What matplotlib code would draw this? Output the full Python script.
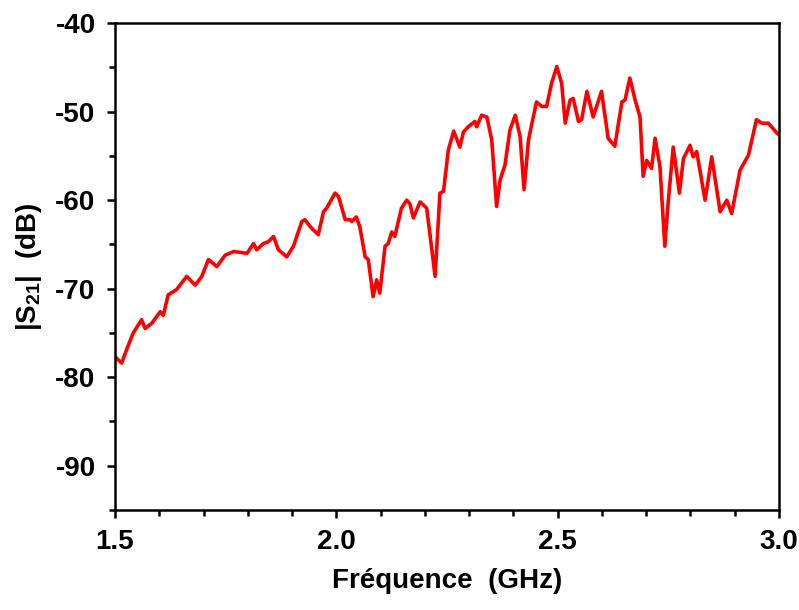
import matplotlib
matplotlib.use("Agg")
import matplotlib.pyplot as plt
from matplotlib.ticker import MultipleLocator

plt.rcParams['font.family'] = ['Liberation Sans', 'DejaVu Sans']
plt.rcParams['font.weight'] = 'bold'
plt.rcParams['mathtext.fontset'] = 'custom'
plt.rcParams['mathtext.rm'] = 'Liberation Sans:bold'
plt.rcParams['mathtext.it'] = 'Liberation Sans:bold'
plt.rcParams['mathtext.bf'] = 'Liberation Sans:bold'

# ============================
# Data
# ============================
freq_ghz = [
    1.500, 1.515, 1.526, 1.541, 1.560, 1.568, 1.583, 1.602, 1.609, 1.620,
    1.639, 1.662, 1.681, 1.696, 1.711, 1.730, 1.749, 1.768, 1.798, 1.813,
    1.820, 1.835, 1.846, 1.858, 1.869, 1.888, 1.903, 1.922, 1.929, 1.941,
    1.959, 1.971, 1.978, 1.997, 2.005, 2.020, 2.031, 2.035, 2.045, 2.053,
    2.065, 2.072, 2.083, 2.091, 2.098, 2.110, 2.117, 2.125, 2.132, 2.147,
    2.159, 2.166, 2.174, 2.189, 2.196, 2.204, 2.211, 2.223, 2.234, 2.242,
    2.253, 2.265, 2.279, 2.287, 2.298, 2.313, 2.317, 2.328, 2.340, 2.351,
    2.362, 2.370, 2.381, 2.392, 2.404, 2.415, 2.424, 2.434, 2.452, 2.464,
    2.475, 2.486, 2.498, 2.509, 2.517, 2.528, 2.535, 2.547, 2.554, 2.566,
    2.580, 2.599, 2.614, 2.629, 2.645, 2.652, 2.663, 2.675, 2.686, 2.693,
    2.701, 2.712, 2.720, 2.731, 2.742, 2.750, 2.761, 2.775, 2.784, 2.799,
    2.806, 2.814, 2.833, 2.848, 2.867, 2.882, 2.893, 2.912, 2.931, 2.949,
    2.961, 2.976, 2.995, 3.000,
]
s21_db = [
    -77.7, -78.4, -76.9, -75.0, -73.5, -74.5, -73.9, -72.6, -73.0, -70.7,
    -70.1, -68.6, -69.6, -68.6, -66.7, -67.5, -66.2, -65.8, -66.0, -64.9,
    -65.6, -64.9, -64.7, -64.1, -65.6, -66.4, -65.2, -62.4, -62.2, -63.0,
    -63.9, -61.3, -60.9, -59.2, -59.6, -62.2, -62.2, -62.4, -61.9, -63.0,
    -66.4, -66.7, -70.9, -69.0, -70.5, -65.2, -64.9, -63.6, -64.1, -60.9,
    -60.0, -60.4, -62.0, -60.2, -60.5, -60.9, -63.7, -68.6, -59.2, -59.0,
    -54.3, -52.2, -54.0, -52.3, -51.7, -51.1, -51.7, -50.4, -50.6, -53.2,
    -60.7, -57.7, -56.0, -52.1, -50.4, -52.8, -58.8, -53.2, -48.9, -49.4,
    -49.4, -46.8, -44.9, -46.8, -51.3, -48.7, -48.5, -51.1, -50.9, -47.7,
    -50.6, -47.7, -53.0, -53.9, -48.9, -48.7, -46.2, -48.7, -50.6, -57.3,
    -55.5, -56.4, -53.0, -56.2, -65.2, -60.0, -54.0, -59.2, -55.3, -53.8,
    -55.1, -54.5, -60.0, -55.1, -61.3, -60.0, -61.5, -56.6, -54.9, -50.9,
    -51.3, -51.3, -52.4, -52.6,
]

fig = plt.figure(figsize=(7.99, 6.10), dpi=100)
ax = fig.add_axes([0.144, 0.164, 0.831, 0.798])

ax.plot(freq_ghz, s21_db, color="#ff0000", linewidth=2.6)

ax.set_xlim(1.5, 3.0)
ax.set_ylim(-95, -40)
ax.xaxis.set_major_locator(MultipleLocator(0.5))
ax.xaxis.set_minor_locator(MultipleLocator(0.1))
ax.yaxis.set_major_locator(MultipleLocator(10))
ax.yaxis.set_minor_locator(MultipleLocator(5))
ax.xaxis.set_major_formatter(plt.FormatStrFormatter("%.1f"))
ax.yaxis.set_major_formatter(plt.FormatStrFormatter("%d"))

for s in ax.spines.values():
    s.set_linewidth(1.8)
ax.tick_params(which="both", direction="out", width=1.8, top=False, right=False,
               labelsize=20)
ax.tick_params(which="major", length=6, pad=8)
ax.tick_params(which="minor", length=4)

ax.set_xlabel("Fréquence  (GHz)", fontsize=20, fontweight="bold", labelpad=9)
ax.set_ylabel(r"|S$_{\mathrm{21}}$|  (dB)", fontsize=20, fontweight="bold", labelpad=8)

fig.savefig("out.png", dpi=100)
